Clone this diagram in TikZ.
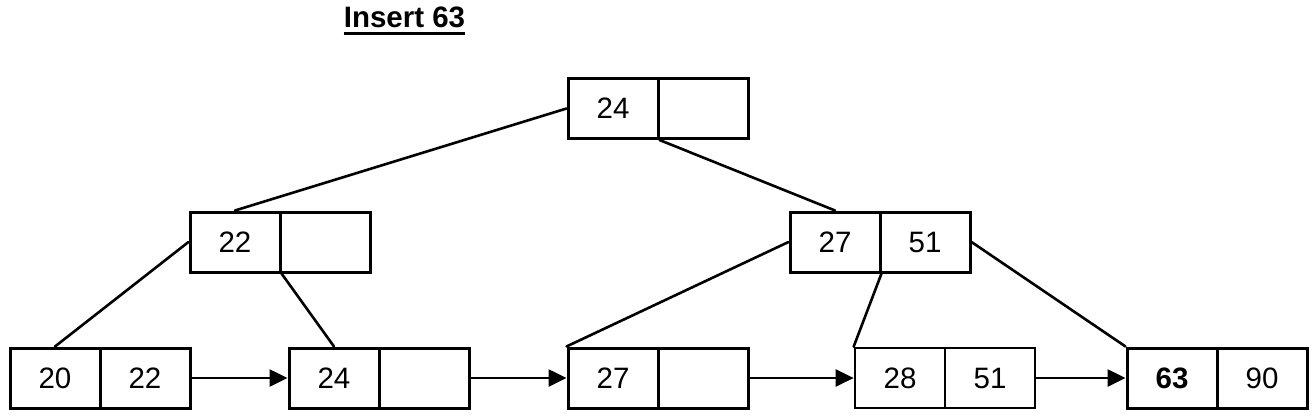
\documentclass[tikz,border=0pt]{standalone}
\usepackage{fontspec}
\setmainfont{Liberation Sans}
\usetikzlibrary{arrows.meta}
\begin{document}
\begin{tikzpicture}[x=1pt,y=-1pt,
  cell/.style={draw=black,line width=3pt,minimum width=90pt,minimum height=60pt,inner sep=0pt,
    font=\fontsize{29.5}{34}\selectfont},
  thincell/.style={cell,draw=black,line width=2.7pt},
  edge/.style={line width=2.6pt,line cap=round},
  link/.style={line width=2.6pt,-{Triangle[length=18pt,width=17pt]}}]
\useasboundingbox[fill=white] (0,0) rectangle (1314,418);
% title
\node[anchor=base,inner sep=0pt,font=\fontsize{29.5}{34}\selectfont\bfseries] (title) at (404.5,27) {Insert 63};
\draw[line width=3pt] ([yshift=-6.5pt]title.base west) -- ([yshift=-6.5pt]title.base east);
% root
\node[cell] (r1) at (613,108.5) {24};
\node[cell] (r2) at (703,108.5) {};
% level 2
\node[cell] (l1) at (235,242) {22};
\node[cell] (l2) at (325,242) {};
\node[cell] (n1) at (835,242) {27};
\node[cell] (n2) at (925,242) {51};
% leaves
\node[cell] (a1) at (55,378) {20};
\node[cell] (a2) at (145,378) {22};
\node[cell] (b1) at (334,378) {24};
\node[cell] (b2) at (424,378) {};
\node[cell] (c1) at (613,378) {27};
\node[cell] (c2) at (703,378) {};
\node[thincell] (d1) at (900,378) {28};
\node[thincell] (d2) at (990,378) {51};
\node[cell] (e1) at (1172,378) {\textbf{63}};
\node[cell] (e2) at (1262,378) {90};
% tree edges
\draw[edge] (r1.west) -- (l1.north);
\draw[edge] (r1.south east) -- (n1.north);
\draw[edge] (l1.west) -- (a1.north);
\draw[edge] (l1.south east) -- (b1.north);
\draw[edge] (n1.west) -- (c1.north west);
\draw[edge] (n1.south east) -- (d1.north west);
\draw[edge] (n2.east) -- (e1.north west);
% leaf links
\draw[link] (a2.east) -- (b1.west);
\draw[link] (b2.east) -- (c1.west);
\draw[link] (c2.east) -- (d1.west);
\draw[link] (d2.east) -- (e1.west);
\end{tikzpicture}
\end{document}
